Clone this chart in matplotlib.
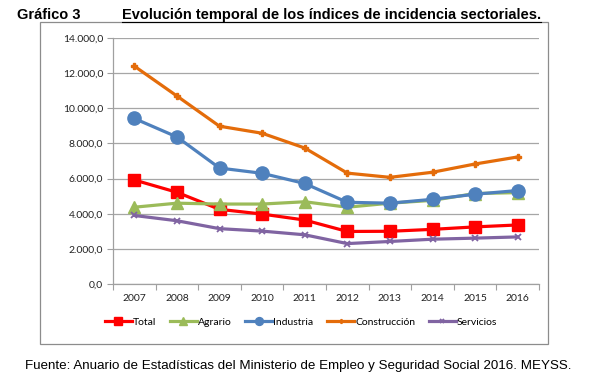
import matplotlib
matplotlib.use("Agg")
import matplotlib.pyplot as plt
from matplotlib.patches import Rectangle
from matplotlib.ticker import FuncFormatter, FixedLocator

years = ["2007", "2008", "2009", "2010", "2011", "2012", "2013", "2014", "2015", "2016"]
total = [5920, 5220, 4250, 3980, 3640, 2990, 3000, 3110, 3250, 3360]
agrario = [4370, 4600, 4550, 4550, 4680, 4370, 4600, 4760, 5150, 5200]
industria = [9420, 8370, 6600, 6300, 5720, 4650, 4600, 4820, 5110, 5320]
construccion = [12400, 10700, 8980, 8580, 7740, 6310, 6070, 6360, 6830, 7230]
servicios = [3900, 3600, 3150, 3010, 2800, 2300, 2420, 2550, 2610, 2680]

series = [
    ("Total", total, "#FF0000", "s", 9),
    ("Agrario", agrario, "#9BBB59", "^", 8.5),
    ("Industria", industria, "#4F81BD", "o", 9.5),
    ("Construcción", construccion, "#E46C0A", "P", 4.5),
    ("Servicios", servicios, "#8064A2", "x", 4.5),
]

fig = plt.figure(figsize=(5.91, 3.86), dpi=100)
W, H = 591, 386

# outer frame
fig.patches.append(Rectangle((40 / W, 1 - 344 / H), 508 / W, 322 / H, transform=fig.transFigure,
                             fill=False, edgecolor="#8C8C8C", linewidth=0.9))

ax = fig.add_axes([113 / W, 1 - 284 / H, 426 / W, 246 / H])
x = list(range(len(years)))
for name, vals, col, mk, ms in series:
    kw = dict(color=col, linewidth=2.3, marker=mk, markersize=ms, label=name,
              markerfacecolor=col, markeredgecolor=col)
    if mk == "x":
        kw["markeredgewidth"] = 1.3
    ax.plot(x, vals, **kw)

ax.set_ylim(0, 14000)
ax.set_xlim(-0.5, len(years) - 0.5)
ax.set_yticks(range(0, 14001, 2000))
ax.yaxis.set_major_formatter(FuncFormatter(lambda v, p: f"{int(v):,}".replace(",", ".") + ",0"))
ax.set_xticks(x)
ax.set_xticklabels(years)
ax.xaxis.set_minor_locator(FixedLocator([i - 0.5 for i in range(len(years) + 1)]))
ax.tick_params(axis="x", which="major", length=0, pad=7, labelsize=7.5, labelcolor="#222222")
ax.tick_params(axis="x", which="minor", length=4, color="#A0A0A0", width=0.8)
ax.tick_params(axis="y", length=4, color="#A0A0A0", width=0.8, labelsize=7.5, labelcolor="#222222", pad=3)
for lbl in ax.get_xticklabels() + ax.get_yticklabels():
    lbl.set_fontfamily("Lato")
ax.grid(axis="y", color="#A6A6A6", linewidth=0.9)
ax.set_axisbelow(True)
for s in ["top", "right"]:
    ax.spines[s].set_visible(False)
for s in ["left", "bottom"]:
    ax.spines[s].set_color("#A0A0A0")
    ax.spines[s].set_linewidth(0.9)

leg = fig.legend(loc="center", bbox_to_anchor=(301 / W, 1 - 322 / H), ncol=5, frameon=False,
                 prop={"family": "Lato", "size": 7.5}, handlelength=2.6, handletextpad=0.1,
                 columnspacing=1.3, markerscale=0.6)

fig.text(17 / W, 1 - 15 / H, "Gráfico 3", fontsize=10.5, fontweight="bold",
         family="Liberation Sans", va="center", ha="left")
t = fig.text(122 / W, 1 - 15 / H, "Evolución temporal de los índices de incidencia sectoriales.",
             fontsize=10.5, fontweight="bold", family="Liberation Sans", va="center", ha="left")
fig.text(298 / W, 1 - 366 / H,
         "Fuente: Anuario de Estadísticas del Ministerio de Empleo y Seguridad Social 2016. MEYSS.",
         fontsize=9.6, family="Liberation Sans", va="center", ha="center")

# underline of title
fig.canvas.draw()
bb = t.get_window_extent()
fig.add_artist(plt.Line2D([bb.x0 / W, bb.x1 / W], [(bb.y0 + 0.5) / H, (bb.y0 + 0.5) / H],
                          transform=fig.transFigure, color="black", linewidth=0.8))

fig.savefig("out.png", dpi=100)
